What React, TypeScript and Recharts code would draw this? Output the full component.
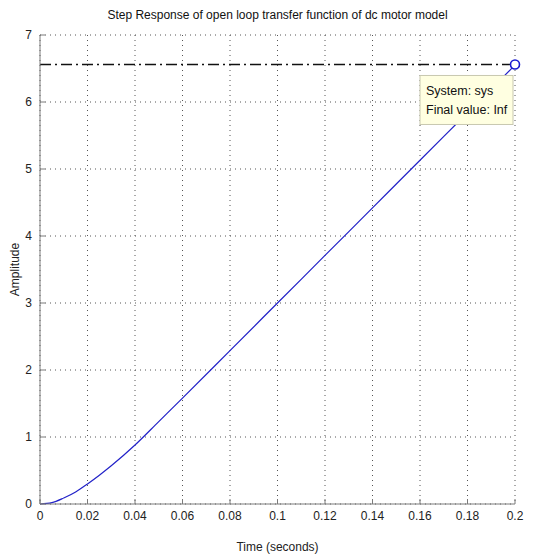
import React from 'react';
import {
  LineChart,
  Line,
  XAxis,
  YAxis,
  CartesianGrid,
  ReferenceLine,
  ReferenceDot,
} from 'recharts';

const TITLE = 'Step Response of open loop transfer function of dc motor model';
const X_LABEL = 'Time (seconds)';
const Y_LABEL = 'Amplitude';

// step response samples
const timeSec = [0, 0.005, 0.01, 0.015, 0.02, 0.025, 0.03, 0.04, 0.05, 0.06, 0.08, 0.1, 0.12, 0.14, 0.16, 0.18, 0.2];
const amplitude = [0, 0.02, 0.09, 0.18, 0.3, 0.43, 0.57, 0.88, 1.23, 1.58, 2.29, 3.0, 3.71, 4.42, 5.13, 5.84, 6.55];

const xTicks = [0, 0.02, 0.04, 0.06, 0.08, 0.1, 0.12, 0.14, 0.16, 0.18, 0.2];
const yTicks = [0, 1, 2, 3, 4, 5, 6, 7];

const finalValue = 6.56;
const finalTime = 0.2;
const tipLines = ['System: sys', 'Final value: Inf'];

const data = timeSec.map((t, i) => ({ t, y: amplitude[i] }));

const FONT = '"Liberation Sans", Arial, sans-serif';
const AXIS_GRAY = '#7a7a7a';
const TEXT = '#222';
const TICK_LEN = 5;
const X_MARGIN = 6;
const Y_MARGIN = 6;

const fmt = (v: number) => String(Number(v.toFixed(2)));

function BottomTick(props: any) {
  const { x, y, payload } = props;
  const axisY = y - X_MARGIN;
  return (
    <g>
      <line x1={x} x2={x} y1={axisY} y2={axisY - TICK_LEN} stroke={AXIS_GRAY} />
      <text x={x} y={y} dy="0.85em" textAnchor="middle" fontSize={12} fontFamily={FONT} fill={TEXT}>
        {fmt(payload.value)}
      </text>
    </g>
  );
}

function LeftTick(props: any) {
  const { x, y, payload } = props;
  const axisX = x + Y_MARGIN;
  return (
    <g>
      <line x1={axisX} x2={axisX + TICK_LEN} y1={y} y2={y} stroke={AXIS_GRAY} />
      <text x={x - 2} y={y} dy="0.35em" textAnchor="end" fontSize={12} fontFamily={FONT} fill={TEXT}>
        {payload.value}
      </text>
    </g>
  );
}

function TopTick(props: any) {
  const { x, y } = props;
  return <line x1={x} x2={x} y1={y} y2={y + TICK_LEN} stroke={AXIS_GRAY} />;
}

function RightTick(props: any) {
  const { x, y } = props;
  return <line x1={x} x2={x - TICK_LEN} y1={y} y2={y} stroke={AXIS_GRAY} />;
}

// final value marker plus its data tip box
function FinalMarker(props: any) {
  const { cx, cy } = props;
  const boxX = cx - 95;
  const boxY = cy + 11;
  return (
    <g>
      <rect x={boxX} y={boxY} width={93} height={49} fill="#ffffe1" stroke="#c8c8b0" />
      {tipLines.map((s, i) => (
        <text key={s} x={boxX + 6} y={boxY + 20 + i * 19} fontSize={12.5} fontFamily={FONT} fill="#111">
          {s}
        </text>
      ))}
      <circle cx={cx} cy={cy} r={4.5} fill="#fff" stroke="#1a1ad0" strokeWidth={1.6} />
    </g>
  );
}

export default function App() {
  return (
    <div style={{ position: 'absolute', left: 0, top: 0, width: 550, height: 556, background: '#fff' }}>
      <div
        style={{
          position: 'absolute',
          left: 40,
          top: 7,
          width: 475,
          textAlign: 'center',
          fontSize: 12,
          lineHeight: '16px',
          fontFamily: FONT,
          color: '#111',
        }}
      >
        {TITLE}
      </div>
      <LineChart width={550} height={556} data={data} margin={{ top: 35, right: 35, left: 0, bottom: 0 }}>
        <CartesianGrid stroke="#555" strokeDasharray="1 4" />
        <XAxis
          dataKey="t"
          type="number"
          domain={[0, 0.2]}
          ticks={xTicks}
          height={52}
          tickSize={0}
          tickMargin={X_MARGIN}
          tickLine={false}
          tick={<BottomTick />}
          axisLine={{ stroke: AXIS_GRAY }}
          interval={0}
          label={{ value: X_LABEL, position: 'insideBottom', offset: 5, fontSize: 12, fontFamily: FONT, fill: TEXT }}
        />
        <XAxis
          xAxisId="top"
          orientation="top"
          type="number"
          domain={[0, 0.2]}
          ticks={xTicks}
          height={0}
          tickSize={0}
          tickMargin={0}
          tickLine={false}
          tick={<TopTick />}
          axisLine={{ stroke: AXIS_GRAY }}
          interval={0}
        />
        <YAxis
          type="number"
          domain={[0, 7]}
          ticks={yTicks}
          width={40}
          tickSize={0}
          tickMargin={Y_MARGIN}
          tickLine={false}
          tick={<LeftTick />}
          axisLine={{ stroke: AXIS_GRAY }}
          interval={0}
          label={{
            content: ({ viewBox }: any) => {
              const lx = viewBox.x + 15;
              const ly = viewBox.y + viewBox.height / 2;
              return (
                <text
                  x={lx}
                  y={ly}
                  textAnchor="middle"
                  dominantBaseline="central"
                  transform={`rotate(-90 ${lx} ${ly})`}
                  fontSize={12}
                  fontFamily={FONT}
                  fill={TEXT}
                >
                  {Y_LABEL}
                </text>
              );
            },
          }}
        />
        <YAxis
          yAxisId="right"
          orientation="right"
          type="number"
          domain={[0, 7]}
          ticks={yTicks}
          width={0}
          tickSize={0}
          tickMargin={0}
          tickLine={false}
          tick={<RightTick />}
          axisLine={{ stroke: AXIS_GRAY }}
          interval={0}
        />
        <ReferenceLine y={finalValue} stroke="#111" strokeWidth={1.4} strokeDasharray="11 4 2 4" />
        <Line
          type="monotone"
          dataKey="y"
          stroke="#2222c8"
          strokeWidth={1.2}
          dot={false}
          isAnimationActive={false}
        />
        <ReferenceDot x={finalTime} y={finalValue} r={4.5} shape={<FinalMarker />} zIndex={1000} ifOverflow="visible" />
      </LineChart>
    </div>
  );
}
